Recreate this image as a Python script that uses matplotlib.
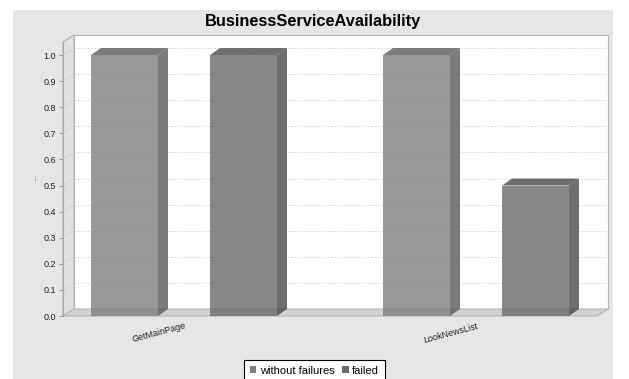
import matplotlib
matplotlib.use("Agg")
import matplotlib.pyplot as plt
from matplotlib.patches import Polygon, Rectangle, Patch
from matplotlib.transforms import ScaledTranslation

# ---- data ----
categories = ["GetMainPage", "LookNewsList"]
series_names = ["without failures", "failed"]
without_failures = [1.0, 1.0]
failed = [1.0, 0.5]
y_ticks = [0.0, 0.1, 0.2, 0.3, 0.4, 0.5, 0.6, 0.7, 0.8, 0.9, 1.0]
title = "BusinessServiceAvailability"

series_values = [without_failures, failed]
series_colors = ["#808080", "#6a6a6a"]
bar_alpha = 0.8

plt.rcParams["font.family"] = ["Liberation Sans", "DejaVu Sans"]

W, H, DPI = 629, 379, 100
fig = plt.figure(figsize=(W / DPI, H / DPI), dpi=DPI)
fig.patch.set_facecolor("white")

# grey chart panel
fig.patches.append(Rectangle((13 / W, 0), 600 / W, 369 / H, transform=fig.transFigure,
                             facecolor="#e6e6e6", edgecolor="none", zorder=-10))

ax = fig.add_axes([63 / W, 63 / H, 534 / W, 274 / H])
XMIN, XMAX, YMAX = -0.4144, 1.4144, 1.05
ax.set_xlim(XMIN, XMAX)
ax.set_ylim(0, YMAX)
ax.set_facecolor("none")

# pixel -> data unit helpers for the 3D depth offsets
px_x = (XMAX - XMIN) / 534
px_y = YMAX / 274
wdx, wdy = 11 * px_x, 7 * px_y     # wall depth
bdx, bdy = 10 * px_x, 7 * px_y     # bar depth
edge = "#b4b4b4"

# back wall
ax.add_patch(Rectangle((XMIN + wdx, wdy), XMAX - XMIN, YMAX, facecolor="white",
                       edgecolor=edge, lw=0.8, clip_on=False, zorder=1))
# left wall
ax.add_patch(Polygon([(XMIN, 0), (XMIN, YMAX), (XMIN + wdx, YMAX + wdy), (XMIN + wdx, wdy)],
                     closed=True, facecolor="#e0e0e0", edgecolor=edge, lw=0.8,
                     clip_on=False, zorder=1.5))
# floor
ax.add_patch(Polygon([(XMIN, 0), (XMAX, 0), (XMAX + wdx, wdy), (XMIN + wdx, wdy)],
                     closed=True, facecolor="#d2d2d2", edgecolor=edge, lw=0.8,
                     clip_on=False, zorder=1.5))

# dashed gridlines on back wall and left wall
for t in y_ticks[1:]:
    ax.plot([XMIN + wdx, XMAX + wdx], [t + wdy, t + wdy], ls=(0, (2, 2)), color="#d0d0d0",
            lw=0.6, clip_on=False, zorder=2)
    ax.plot([XMIN, XMIN + wdx], [t, t + wdy], ls=(0, (1.5, 1.5)), color="#c4c4c4",
            lw=0.6, clip_on=False, zorder=2)


def darker(hex_color, f=0.7):
    r, g, b = matplotlib.colors.to_rgb(hex_color)
    return (r * f, g * f, b * f)


bar_w = 0.2295
offsets = [-0.2038, 0.2038]
for i, vals in enumerate(series_values):
    for j, h in enumerate(vals):
        left = j + offsets[i] - bar_w / 2
        right = left + bar_w
        c = series_colors[i]
        d = darker(c)
        ax.add_patch(Rectangle((left, 0), bar_w, h, facecolor=c, alpha=bar_alpha,
                               edgecolor="none", clip_on=False, zorder=3))
        ax.add_patch(Polygon([(right, 0), (right + bdx, bdy), (right + bdx, h + bdy), (right, h)],
                             closed=True, facecolor=d, alpha=bar_alpha, edgecolor="none",
                             clip_on=False, zorder=3))
        ax.add_patch(Polygon([(left, h), (left + bdx, h + bdy), (right + bdx, h + bdy), (right, h)],
                             closed=True, facecolor=d, alpha=bar_alpha, edgecolor="none",
                             clip_on=False, zorder=3))

# axes styling
for s in ["top", "right", "bottom"]:
    ax.spines[s].set_visible(False)
ax.spines["left"].set_color("#a8a8a8")
ax.spines["left"].set_linewidth(0.8)
ax.set_xticks([])
ax.set_yticks(y_ticks)
ax.set_yticklabels([f"{t:.1f}" for t in y_ticks])
ax.tick_params(axis="y", length=3, width=0.6, color="#909090", labelsize=6.5, pad=2,
               labelcolor="#222222")
ax.set_ylabel("...", fontsize=6, color="#555555")
ax.yaxis.set_label_coords((38 - 63) / 534, (316 - 177) / 274)

# rotated category labels
label_shift = ScaledTranslation(0, -12 / DPI, fig.dpi_scale_trans)
for j, name in enumerate(categories):
    ax.text(j + 2 * px_x, 0, name, transform=ax.transData + label_shift, rotation=15,
            rotation_mode="anchor", ha="right", va="baseline", fontsize=6.5, color="#222222")

fig.text(313 / W, 1 - 26 / H, title, ha="center", va="baseline", fontsize=11.8,
         fontweight="bold", color="black")

handles = [Patch(facecolor=c, edgecolor="none") for c in series_colors]
leg = fig.legend(handles, series_names, loc="upper left", bbox_to_anchor=(244 / W, 1 - 360 / H),
                 ncol=2, fontsize=8, frameon=True, fancybox=False, edgecolor="black",
                 framealpha=1, borderpad=0.5, handlelength=0.6, handleheight=0.6,
                 handletextpad=0.3, columnspacing=0.7, borderaxespad=0)
leg.get_frame().set_linewidth(0.8)

fig.savefig("out.png", dpi=DPI)
